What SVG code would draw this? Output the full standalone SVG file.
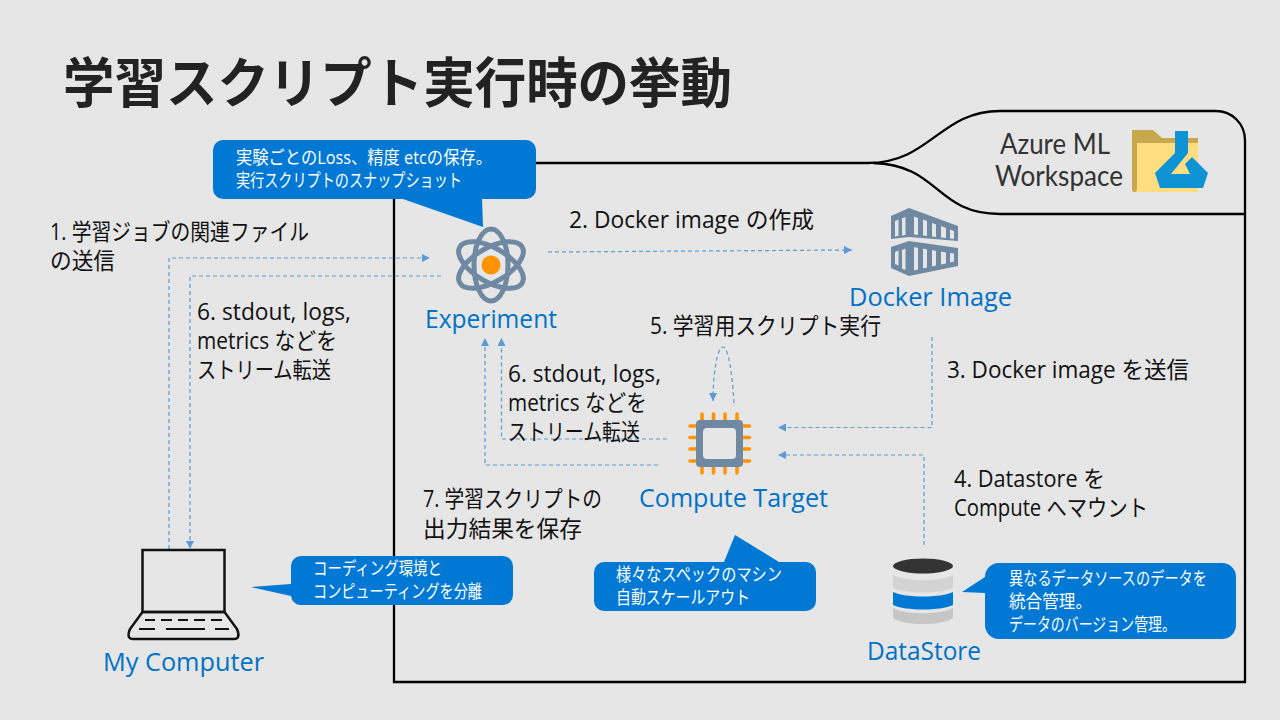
<svg xmlns="http://www.w3.org/2000/svg" width="1280" height="720" viewBox="0 0 1280 720">
<defs>
<style>
text{font-family:"Open Sans","Noto Sans CJK JP",sans-serif}
.jp{font-size:23px;fill:#111}
.nm{font-size:25px;fill:#0072c6}
.cw{font-size:18px;fill:#fff}
.ws{font-family:"Lato","Noto Sans CJK JP",sans-serif;font-size:28px;fill:#333}
.cl{fill:none;stroke:#5b9bd5;stroke-width:1.2;stroke-dasharray:4 3;marker-end:url(#a)}
.k{fill:none;stroke:#000;stroke-width:2.300}
.cb{fill:#0078d4}
.g{fill:#6f89a3}
.w{fill:#e6e6e6}
.o{stroke:#ff9300;stroke-width:3.500;stroke-linecap:round;fill:none}
.lk{fill:none;stroke:#111;stroke-width:2.500}
</style>
<marker id="a" markerWidth="9" markerHeight="8" refX="8" refY="4" orient="auto" markerUnits="userSpaceOnUse"><path d="M0 0L8 4L0 8Z" fill="#5b9bd5"/></marker>
</defs>
<rect width="1280" height="720" fill="#e6e6e6"/>
<text x="63" y="103" font-size="54" font-weight="700" fill="#222" textLength="669" lengthAdjust="spacingAndGlyphs">学習スクリプト実行時の挙動</text>
<g id="workspace">
<path class="k" d="M394 199V682H1245V140A29 29 0 0 0 1216 111H1000C940 111 930 163 868 163H536"/>
<path class="k" d="M873 163C940 165 935 214 1000 214H1245"/>
<text class="ws" x="1000" y="154" textLength="110" lengthAdjust="spacingAndGlyphs">Azure ML</text>
<text class="ws" x="995" y="186" textLength="128" lengthAdjust="spacingAndGlyphs">Workspace</text>
<path fill="#c8a84c" d="M1132 130H1153L1162 138H1198V144H1137V190Q1137 192 1134.500 192Q1132 192 1132 190Z"/>
<path fill="#ffdd80" d="M1137 143H1198V192H1137Z"/>
<path fill="#0f93d5" d="M1175 131H1188V153L1171 174H1190L1185 164L1192 157L1208 173L1203 188H1160L1155 173L1175 153Z"/>
</g>
<g id="connectors">
<path class="cl" d="M169 549V258H430"/>
<path class="cl" d="M441 276H190V549"/>
<path class="cl" d="M548 252L852 250"/>
<path class="cl" d="M932 337V427.500H778"/>
<path class="cl" d="M924 545V455H778"/>
<path class="cl" d="M667 439H501.500V338"/>
<path class="cl" d="M658 465H485V338"/>
<path class="cl" d="M734 403C732 370 728 347 723 347C717 347 713 375 713 401"/>
</g>
<g id="experiment">
<g fill="none" stroke="#6f89a3" stroke-width="5">
<ellipse cx="491" cy="265" rx="36" ry="17" transform="rotate(90 491 265)"/>
<ellipse cx="491" cy="265" rx="36" ry="17" transform="rotate(30 491 265)"/>
<ellipse cx="491" cy="265" rx="36" ry="17" transform="rotate(-30 491 265)"/>
</g>
<circle cx="491" cy="265" r="9.500" fill="#ff9300"/>
<text class="nm" x="425" y="328" textLength="132" lengthAdjust="spacingAndGlyphs">Experiment</text>
</g>
<g id="docker">
<path class="g" d="M891 216L909 208L958 226V241L909 237L891 239Z"/>
<path class="g" d="M891 247L909 241L958 248V266L909 276L891 268Z"/>
<path class="w" d="M895 221L898.500 219.500V236L895 236.500ZM902 218.500L905.500 217V235L902 235.500ZM914 216.500L918 218V235L914 234.500ZM923 219.500L927 221V236L923 235.500ZM932 223L936 224.500V237L932 236.500ZM941 226L946 228V238L941 237.500ZM950 229.500L954 231V239L950 238.500Z"/>
<path class="w" d="M895 252L898.500 250.500V265.500L895 264ZM902 250L905.500 248.500V270L902 268.500ZM914 247L918 248V269.500L914 270.500ZM923 248.500L927 249.500V267.500L923 268.500ZM932 250L936 251V265.500L932 266.500ZM941 251.500L946 252.500V263.500L941 264.500ZM950 253L954 253.500V261.500L950 262.500Z"/>
<text class="nm" x="849" y="306" textLength="163" lengthAdjust="spacingAndGlyphs">Docker Image</text>
</g>
<g id="compute">
<path class="o" d="M702 414V420M713.500 414V420M725 414V420M737 414V420M702 467V473M713.500 467V473M725 467V473M737 467V473M690 426H696M690 437.500H696M690 449H696M690 461H696M743 426H749.500M743 437.500H749.500M743 449H749.500M743 461H749.500"/>
<rect x="696" y="420" width="47" height="47" rx="4" class="g"/>
<rect x="703" y="428" width="33" height="31" rx="4" class="w"/>
<text class="nm" x="639" y="507" textLength="189" lengthAdjust="spacingAndGlyphs">Compute Target</text>
</g>
<g id="computer">
<rect x="142.500" y="550" width="82" height="62" class="lk"/>
<path class="lk" d="M142.500 612L130 629Q126 639 133 639H234Q241 639 237 629L224.500 612Z"/>
<path stroke="#111" stroke-width="2" d="M145 620H155M161 620H172M178 620H188M194 620H205M211 620H222M139 629H155M166 629H205M215 629H229"/>
<text class="nm" x="103" y="671" textLength="161" lengthAdjust="spacingAndGlyphs">My Computer</text>
</g>
<g id="datastore">
<path fill="#d3d3d3" d="M893 575V588C905 594 941 594 953 588V575C941 582 905 582 893 575Z"/>
<path fill="#0078d4" d="M893 592V605C905 611 941 611 953 605V592C941 598 905 598 893 592Z"/>
<path fill="#c6c6c6" d="M893 608V618C905 626 941 626 953 618V608C941 615 905 615 893 608Z"/>
<ellipse cx="923" cy="566" rx="30" ry="7.500" fill="#333"/>
<text class="nm" x="867" y="660" textLength="114" lengthAdjust="spacingAndGlyphs">DataStore</text>
</g>
<g id="callouts">
<path class="cb" d="M223 140H526A10 10 0 0 1 536 150V189A10 10 0 0 1 526 199H482L483 227L403 199H223A10 10 0 0 1 213 189V150A10 10 0 0 1 223 140Z"/>
<text class="cw" x="236" y="164" textLength="256" lengthAdjust="spacingAndGlyphs">実験ごとのLoss、精度 etcの保存。</text>
<text class="cw" x="236" y="187" textLength="226" lengthAdjust="spacingAndGlyphs">実行スクリプトのスナップショット</text>
<path class="cb" d="M301 556H503A10 10 0 0 1 513 566V595A10 10 0 0 1 503 605H301A10 10 0 0 1 291 596L251 587L291 584V566A10 10 0 0 1 301 556Z"/>
<text class="cw" x="313" y="575" textLength="129" lengthAdjust="spacingAndGlyphs">コーディング環境と</text>
<text class="cw" x="313" y="598" textLength="169" lengthAdjust="spacingAndGlyphs">コンピューティングを分離</text>
<path class="cb" d="M604 562H724L735 535L779 562H806A10 10 0 0 1 816 572V601A10 10 0 0 1 806 611H604A10 10 0 0 1 594 601V572A10 10 0 0 1 604 562Z"/>
<text class="cw" x="616" y="581" textLength="166" lengthAdjust="spacingAndGlyphs">様々なスペックのマシン</text>
<text class="cw" x="616" y="604" textLength="134" lengthAdjust="spacingAndGlyphs">自動スケールアウト</text>
<path class="cb" d="M999 563H1222A14 14 0 0 1 1236 577V625A14 14 0 0 1 1222 639H999A14 14 0 0 1 985 625V593L962 592L985 577A14 14 0 0 1 999 563Z"/>
<text class="cw" x="1009" y="585" textLength="198" lengthAdjust="spacingAndGlyphs">異なるデータソースのデータを</text>
<text class="cw" x="1009" y="608" textLength="83" lengthAdjust="spacingAndGlyphs">統合管理。</text>
<text class="cw" x="1009" y="631" textLength="167" lengthAdjust="spacingAndGlyphs">データのバージョン管理。</text>
</g>
<g id="labels">
<text class="jp" x="50" y="240" textLength="259" lengthAdjust="spacingAndGlyphs">1. 学習ジョブの関連ファイル</text>
<text class="jp" x="50" y="269" textLength="65" lengthAdjust="spacingAndGlyphs">の送信</text>
<text class="jp" x="197" y="320" textLength="154" lengthAdjust="spacingAndGlyphs">6. stdout, logs,</text>
<text class="jp" x="197" y="349" textLength="140" lengthAdjust="spacingAndGlyphs">metrics などを</text>
<text class="jp" x="197" y="378" textLength="134" lengthAdjust="spacingAndGlyphs">ストリーム転送</text>
<text class="jp" x="569" y="228" textLength="245" lengthAdjust="spacingAndGlyphs">2. Docker image の作成</text>
<text class="jp" x="650" y="334" textLength="231" lengthAdjust="spacingAndGlyphs">5. 学習用スクリプト実行</text>
<text class="jp" x="947" y="378" textLength="242" lengthAdjust="spacingAndGlyphs">3. Docker image を送信</text>
<text class="jp" x="508" y="382" textLength="153" lengthAdjust="spacingAndGlyphs">6. stdout, logs,</text>
<text class="jp" x="508" y="411" textLength="139" lengthAdjust="spacingAndGlyphs">metrics などを</text>
<text class="jp" x="508" y="440" textLength="132" lengthAdjust="spacingAndGlyphs">ストリーム転送</text>
<text class="jp" x="423" y="507" textLength="179" lengthAdjust="spacingAndGlyphs">7. 学習スクリプトの</text>
<text class="jp" x="423" y="537" textLength="159" lengthAdjust="spacingAndGlyphs">出力結果を保存</text>
<text class="jp" x="954" y="487" textLength="151" lengthAdjust="spacingAndGlyphs">4. Datastore を</text>
<text class="jp" x="954" y="516" textLength="194" lengthAdjust="spacingAndGlyphs">Compute へマウント</text>
</g>
</svg>
